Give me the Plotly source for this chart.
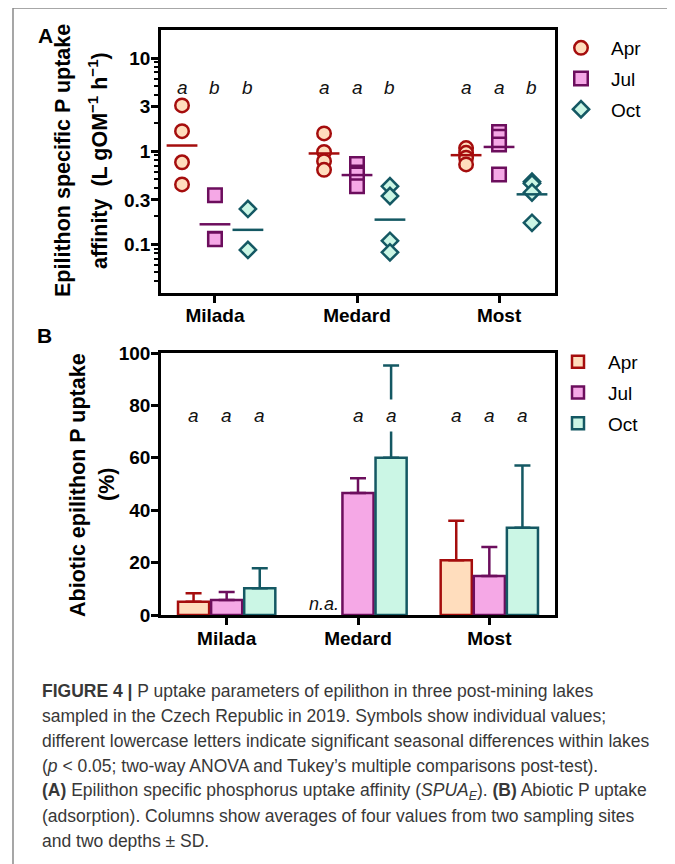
import math
import plotly.graph_objects as go

# ---------------- data ----------------
lakes = ["Milada", "Medard", "Most"]
months = ["Apr", "Jul", "Oct"]

# Panel A: individual SPUA_E values (L gOM-1 h-1)
milada_apr = [3.1, 1.64, 0.76, 0.44]
milada_jul = [0.336, 0.115, 0.113]
milada_oct = [0.24, 0.087]
medard_apr = [1.55, 0.98, 0.78, 0.63]
medard_jul = [0.73, 0.59, 0.56, 0.42]
medard_oct = [0.42, 0.33, 0.109, 0.082]
most_apr = [1.08, 0.96, 0.85, 0.72]
most_jul = [1.61, 1.43, 1.18, 0.56]
most_oct = [0.47, 0.45, 0.36, 0.17]

# Panel A: mean lines
apr_mean = [1.15, 0.945, 0.906]
jul_mean = [0.164, 0.554, 1.11]
oct_mean = [0.143, 0.184, 0.344]

letters_a_apr = ["a", "a", "a"]
letters_a_jul = ["b", "a", "a"]
letters_a_oct = ["b", "b", "b"]

# Panel B: abiotic uptake (%) and SD
abiotic_apr = [5.1, None, 20.9]
sd_apr = [3.2, 0, 15.1]
abiotic_jul = [5.7, 46.6, 14.9]
sd_jul = [3.1, 5.6, 11.1]
abiotic_oct = [10.2, 60.0, 33.3]
sd_oct = [7.6, 35.2, 23.8]

letters_b_apr = ["a", "n.a.", "a"]
letters_b_jul = ["a", "a", "a"]
letters_b_oct = ["a", "a", "a"]

a_ticks = [0.1, 0.3, 1, 3, 10]
a_tick_text = ["0.1", "0.3", "1", "3", "10"]
a_minor = [0.04, 0.05, 0.06, 0.07, 0.08, 0.09,
           0.2, 0.3, 0.4, 0.5, 0.6, 0.7, 0.8, 0.9,
           2, 3, 4, 5, 6, 7, 8, 9]
b_ticks = [0, 20, 40, 60, 80, 100]

# ---------------- style ----------------
FONT = "Liberation Sans, Arial, sans-serif"
FILL = {"Apr": "#FFDDBD", "Jul": "#F5A8E6", "Oct": "#CBF6E5"}
EDGE = {"Apr": "#A50D0D", "Jul": "#6C0E5D", "Oct": "#145863"}
SYMB = {"Apr": "circle", "Jul": "square", "Oct": "diamond"}
MSIZE = {"Apr": 13.5, "Jul": 13.5, "Oct": 12.5}
OFF_A = {"Apr": -0.232, "Jul": 0.0, "Oct": 0.232}
OFF_B = {"Apr": -0.252, "Jul": 0.0, "Oct": 0.252}

# the page body adds an 8 px margin, so the figure is drawn 8 px in from the corner
PAGE = 8
W, H = 675 - PAGE, 864 - PAGE
def px_x(p):
    return (p - PAGE) / W
def px_y(p):
    return 1 - (p - PAGE) / H

fig = go.Figure()

indiv = {
    "Apr": [milada_apr, medard_apr, most_apr],
    "Jul": [milada_jul, medard_jul, most_jul],
    "Oct": [milada_oct, medard_oct, most_oct],
}
means = {"Apr": apr_mean, "Jul": jul_mean, "Oct": oct_mean}

for m in months:
    xs, ys = [], []
    for i, vals in enumerate(indiv[m]):
        for v in vals:
            xs.append(i + OFF_A[m])
            ys.append(v)
    fig.add_trace(go.Scatter(
        x=xs, y=ys, mode="markers", name=m, xaxis="x", yaxis="y",
        legend="legend", legendgroup="A" + m,
        marker=dict(symbol=SYMB[m], size=MSIZE[m], color=FILL[m],
                    line=dict(color=EDGE[m], width=2.5)),
    ))
for m in months:
    fig.add_trace(go.Scatter(
        x=[i + OFF_A[m] for i in range(3)], y=means[m], mode="markers",
        xaxis="x", yaxis="y", showlegend=False,
        marker=dict(symbol="line-ew", size=22,
                    line=dict(color=EDGE[m], width=2.5)),
    ))

bars = {"Apr": (abiotic_apr, sd_apr), "Jul": (abiotic_jul, sd_jul),
        "Oct": (abiotic_oct, sd_oct)}
for m in months:
    vals, sds = bars[m]
    fig.add_trace(go.Bar(
        x=lakes, y=vals, name=m, xaxis="x2", yaxis="y2",
        legend="legend2", legendgroup="B" + m,
        marker=dict(color=FILL[m], line=dict(color=EDGE[m], width=2.5)),
        error_y=dict(type="data", array=sds, arrayminus=[0, 0, 0],
                     symmetric=False, color=EDGE[m], thickness=2.5, width=8),
    ))

ann = []
la = {"Apr": letters_a_apr, "Jul": letters_a_jul, "Oct": letters_a_oct}
lb = {"Apr": letters_b_apr, "Jul": letters_b_jul, "Oct": letters_b_oct}
for m in months:
    for i in range(3):
        ann.append(dict(x=i + OFF_A[m], y=math.log10(4.8), xref="x", yref="y",
                        text="<i>%s</i>" % la[m][i], showarrow=False,
                        font=dict(family=FONT, size=19, color="#111")))
        t = lb[m][i]
        if t == "n.a.":
            ann.append(dict(x=i + OFF_B[m] - 0.01, y=4.2, xref="x2", yref="y2",
                            text="<i>n.a.</i>", showarrow=False,
                            font=dict(family=FONT, size=18, color="#111")))
        else:
            ann.append(dict(x=i + OFF_B[m], y=76, xref="x2", yref="y2",
                            text="<i>%s</i>" % t, showarrow=False,
                            bgcolor="white", borderpad=5,
                            font=dict(family=FONT, size=19, color="#111")))

title_font = dict(family=FONT, size=21.5, color="black")
def ytitle(text, xp, yp):
    return dict(x=px_x(xp), y=px_y(yp), xref="paper", yref="paper",
                text="<b>%s</b>" % text, textangle=-90, showarrow=False,
                font=title_font, xanchor="center", yanchor="middle")

ann += [
    ytitle("Epilithon specific P uptake", 63, 161),
    ytitle("affinity  (L gOM<sup>−1</sup> h<sup>−1</sup>)", 98, 161),
    ytitle("Abiotic epilithon P uptake", 78, 485),
    ytitle("(%)", 107, 485),
    dict(x=px_x(45), y=px_y(36), xref="paper", yref="paper", text="<b>A</b>",
         xanchor="center", yanchor="middle",
         showarrow=False, font=dict(family=FONT, size=21, color="black")),
    dict(x=px_x(44), y=px_y(336), xref="paper", yref="paper", text="<b>B</b>",
         xanchor="center", yanchor="middle",
         showarrow=False, font=dict(family=FONT, size=21, color="black")),
]

caption_lines = [
    "<b>FIGURE 4 |</b> P uptake parameters of epilithon in three post-mining lakes",
    "sampled in the Czech Republic in 2019. Symbols show individual values;",
    "different lowercase letters indicate significant seasonal differences within lakes",
    "(<i>p</i> &lt; 0.05; two-way ANOVA and Tukey’s multiple comparisons post-test).",
    "<b>(A)</b> Epilithon specific phosphorus uptake affinity (<i>SPUA<sub>E</sub></i>). <b>(B)</b> Abiotic P uptake",
    "(adsorption). Columns show averages of four values from two sampling sites",
    "and two depths ± SD.",
]
cap_y0, cap_dy = 691, 25
for k, line in enumerate(caption_lines):
    ann.append(dict(x=px_x(40), y=px_y(cap_y0 + k * cap_dy), xref="paper", yref="paper",
                    text=line, showarrow=False, xanchor="left", yanchor="middle",
                    font=dict(family="Liberation Sans Narrow, Arial Narrow, Liberation Sans",
                              size=17.5, color="#383838")))

axis_common = dict(showline=True, linewidth=2.5, linecolor="black", mirror=True,
                   ticks="outside", tickwidth=2.5, ticklen=7, tickcolor="black",
                   showgrid=False, zeroline=False, automargin=False,
                   tickfont=dict(family=FONT, size=19, color="black", weight="bold"))

fig.update_layout(
    width=W, height=H,
    margin=dict(l=0, r=0, t=0, b=0, pad=0, autoexpand=False),
    paper_bgcolor="white", plot_bgcolor="white",
    barmode="group", bargap=0.244, bargroupgap=0.06,
    xaxis=dict(domain=[px_x(161), px_x(555)], anchor="y", range=[-0.38, 2.394],
               tickmode="array", tickvals=[0, 1, 2], ticktext=lakes,
               ticklabelstandoff=-4, **axis_common),
    yaxis=dict(domain=[px_y(293), px_y(30)], anchor="x", type="log",
               range=[math.log10(0.03), math.log10(20)],
               tickmode="array", tickvals=a_ticks, ticktext=a_tick_text,
               ticklabelstandoff=-3,
               minor=dict(tickmode="array", tickvals=a_minor, ticks="outside",
                          ticklen=4, tickwidth=2, tickcolor="black"),
               **axis_common),
    xaxis2=dict(domain=[px_x(161), px_x(555)], anchor="y2", range=[-0.5, 2.5],
                type="category", ticklabelstandoff=-3, **axis_common),
    yaxis2=dict(domain=[px_y(615), px_y(353)], anchor="x2", range=[0, 100],
                tickmode="array", tickvals=b_ticks, ticklabelstandoff=-3,
                **axis_common),
    legend=dict(x=px_x(551), y=px_y(29), xanchor="left", yanchor="top",
                font=dict(family=FONT, size=19, color="black"),
                tracegroupgap=3, itemwidth=50, bgcolor="rgba(0,0,0,0)"),
    legend2=dict(x=px_x(548), y=px_y(343), xanchor="left", yanchor="top",
                 font=dict(family=FONT, size=19, color="black"),
                 tracegroupgap=3, itemwidth=50, bgcolor="rgba(0,0,0,0)"),
    annotations=ann,
    shapes=[dict(type="path", xref="paper", yref="paper",
                 path="M %f,-0.02 L %f,%f L %f,%f L %f,-0.02" % (
                     px_x(13), px_x(13), px_y(8), px_x(671), px_y(8), px_x(671)),
                 line=dict(color="#8a8a8a", width=1.5))],
)

fig.write_html("out.html")
